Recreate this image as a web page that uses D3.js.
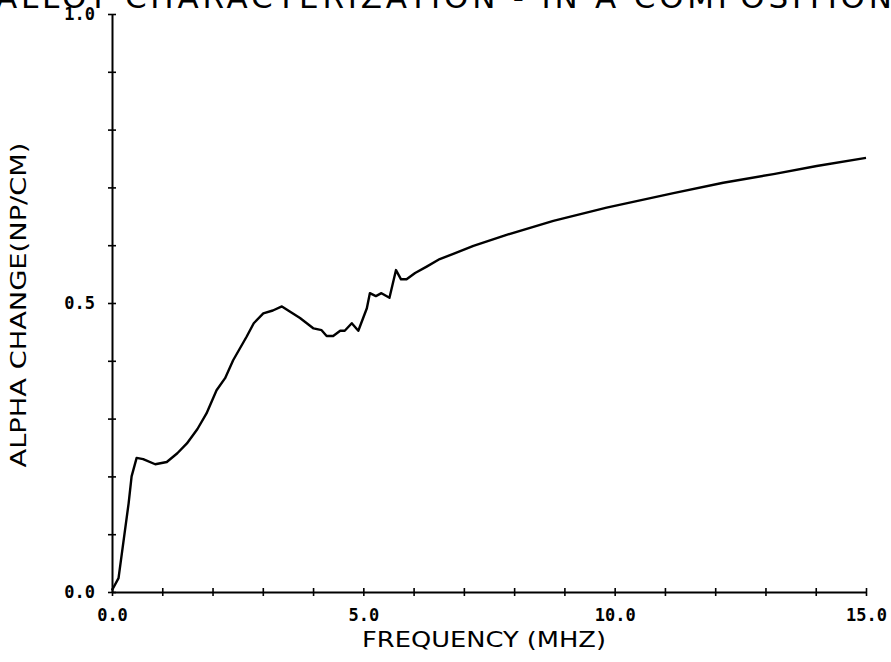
<!DOCTYPE html>
<html>
<head>
<meta charset="utf-8">
<script src="https://cdn.jsdelivr.net/npm/d3@7"></script>
<style>
  body { margin: 0; background: #fff; }
  svg { display: block; }
  .tick-label { font-family: "DejaVu Sans Mono", monospace; font-weight: bold; font-size: 17px; }
  .axis-title { font-family: "DejaVu Sans", sans-serif; font-size: 22px; }
</style>
</head>
<body>
<div id="chart"></div>
<script>
const width = 891;
const height = 662;
const margin = { top: 14, right: 25, bottom: 70, left: 112 };

const titleText = "ALLOY CHARACTERIZATION  -  IN A COMPOSITION";
const xTitle = "FREQUENCY (MHZ)";
const yTitle = "ALPHA CHANGE(NP/CM)";

const frequency = [
  0.0, 0.13, 0.33, 0.39, 0.49, 0.62, 0.86, 1.09, 1.3, 1.49, 1.7, 1.88, 2.08,
  2.25, 2.41, 2.68, 2.82, 3.01, 3.2, 3.38, 3.74, 4.01, 4.17, 4.27, 4.4, 4.54,
  4.63, 4.77, 4.9, 5.07, 5.13, 5.25, 5.36, 5.52, 5.65, 5.75, 5.86, 6.03, 6.26,
  6.52, 6.79, 7.19, 7.85, 8.78, 9.84, 11.17, 12.16, 13.16, 14.02, 15.0,
];
const alphaChange = [
  0.003, 0.024, 0.153, 0.2, 0.232, 0.23, 0.221, 0.225, 0.24, 0.257, 0.282,
  0.309, 0.349, 0.37, 0.401, 0.442, 0.465, 0.482, 0.487, 0.494, 0.474, 0.456,
  0.453, 0.443, 0.443, 0.452, 0.452, 0.465, 0.452, 0.491, 0.517, 0.512, 0.517,
  0.509, 0.557, 0.541, 0.541, 0.552, 0.563, 0.576, 0.585, 0.599, 0.618, 0.642,
  0.665, 0.69, 0.708, 0.723, 0.737, 0.751,
];
const xTicks = [0, 1, 2, 3, 4, 5, 6, 7, 8, 9, 10, 11, 12, 13, 14, 15];
const xLabels = [0, 5, 10, 15];
const yTicks = [0, 0.1, 0.2, 0.3, 0.4, 0.5, 0.6, 0.7, 0.8, 0.9, 1.0];
const yLabels = [0, 0.5, 1.0];

const data = frequency.map((f, i) => ({ f: f, a: alphaChange[i] }));

const svg = d3
  .select("#chart")
  .append("svg")
  .attr("width", width)
  .attr("height", height);

const x = d3
  .scaleLinear()
  .domain([0, 15])
  .range([margin.left, width - margin.right]);
const y = d3
  .scaleLinear()
  .domain([0, 1])
  .range([height - margin.bottom, margin.top]);

// title, mostly cut off by the top edge
svg
  .append("text")
  .attr("class", "axis-title")
  .attr("x", -4)
  .attr("y", 8)
  .attr("textLength", 896)
  .attr("lengthAdjust", "spacing")
  .style("font-size", "31px")
  .text(titleText);

// x axis: cross ticks every 1 MHz
const xAxis = svg
  .append("g")
  .attr("transform", `translate(0, ${y(0)})`)
  .call(d3.axisBottom(x).tickValues(xTicks).tickSize(4).tickSizeOuter(0).tickFormat(""));
xAxis.select(".domain").attr("stroke-width", 2);
xAxis.selectAll(".tick line").attr("y1", -4).attr("stroke-width", 1.6);

svg
  .append("g")
  .attr("class", "tick-label")
  .attr("transform", `translate(0, ${y(0)})`)
  .call(d3.axisBottom(x).tickValues(xLabels).tickSize(0).tickPadding(17).tickFormat(d3.format(".1f")))
  .call((g) => g.select(".domain").remove())
  .call((g) => g.selectAll("text").attr("font-family", null).attr("font-size", null));

// y axis
const yAxis = svg
  .append("g")
  .attr("transform", `translate(${x(0)}, 0)`)
  .call(d3.axisLeft(y).tickValues(yTicks).tickSize(4).tickSizeOuter(0).tickFormat(""));
yAxis.select(".domain").attr("stroke-width", 2);
yAxis.selectAll(".tick line").attr("x1", 4).attr("stroke-width", 1.6);

svg
  .append("g")
  .attr("class", "tick-label")
  .attr("transform", `translate(${x(0) - 17}, 0)`)
  .call(d3.axisLeft(y).tickValues(yLabels).tickSize(0).tickPadding(0).tickFormat(d3.format(".1f")))
  .call((g) => g.select(".domain").remove())
  .call((g) => g.selectAll("text").attr("font-family", null).attr("font-size", null));

// axis titles
svg
  .append("text")
  .attr("class", "axis-title")
  .attr("x", 484)
  .attr("y", 647)
  .attr("text-anchor", "middle")
  .attr("textLength", 244)
  .attr("lengthAdjust", "spacingAndGlyphs")
  .text(xTitle);

svg
  .append("text")
  .attr("class", "axis-title")
  .attr("transform", "translate(26, 305) rotate(-90)")
  .attr("text-anchor", "middle")
  .attr("textLength", 325)
  .attr("lengthAdjust", "spacingAndGlyphs")
  .text(yTitle);

// curve
const line = d3
  .line()
  .x((d) => x(d.f))
  .y((d) => y(d.a));

svg
  .append("path")
  .datum(data)
  .attr("fill", "none")
  .attr("stroke", "#000")
  .attr("stroke-width", 2.4)
  .attr("stroke-linejoin", "round")
  .attr("d", line);
</script>
</body>
</html>
